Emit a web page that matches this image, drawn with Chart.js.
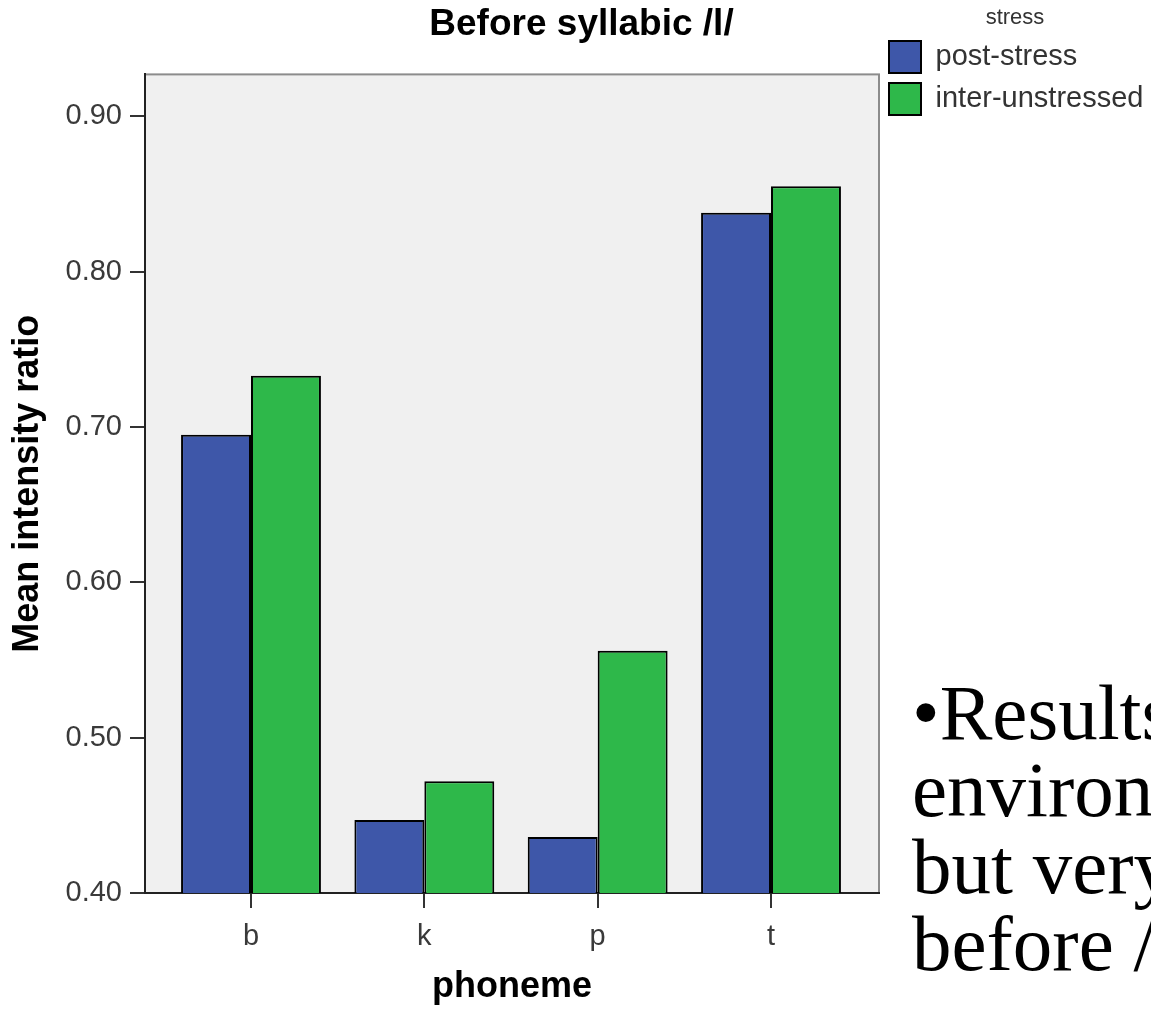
<!DOCTYPE html>
<html>
<head>
<meta charset="utf-8">
<script src="https://cdn.jsdelivr.net/npm/chart.js@4.4.1/dist/chart.umd.min.js"></script>
<style>
  html, body { margin: 0; padding: 0; background: #fff; overflow: hidden; }
  #wrap { position: relative; width: 1151px; height: 1010px; }
  #note {
    position: absolute; left: 912px; top: 674px; width: 239px; overflow: hidden;
    font: 79px "Liberation Serif", "Times New Roman", serif; line-height: 77px;
    white-space: nowrap; color: #000;
  }
</style>
</head>
<body>
<div id="wrap">
  <canvas id="chart"></canvas>
  <div id="note">•Results similar in<br>environments,<br>but very different<br>before /l/</div>
</div>
<script>
const phonemes = ['b', 'k', 'p', 't'];
const postStress = [0.695, 0.447, 0.436, 0.838];
const interUnstressed = [0.733, 0.472, 0.556, 0.855];
const yTicks = [0.40, 0.50, 0.60, 0.70, 0.80, 0.90];

const toPoints = (vals) => vals.map((v, i) => ({ x: i, y: v }));

// grey plot panel behind the bars
const panel = {
  id: 'panel',
  beforeDraw(chart) {
    const { ctx, chartArea: a } = chart;
    ctx.save();
    ctx.fillStyle = '#f0f0f0';
    ctx.fillRect(a.left, a.top, a.right - a.left, a.bottom - a.top);
    ctx.strokeStyle = '#8c8c8c';
    ctx.lineWidth = 2;
    ctx.strokeRect(a.left, a.top, a.right - a.left, a.bottom - a.top);
    ctx.restore();
  }
};

Chart.defaults.font.family = '"Liberation Sans", Arial, sans-serif';
Chart.defaults.color = '#333';

new Chart(document.getElementById('chart'), {
  type: 'bar',
  data: {
    datasets: [
      {
        label: 'post-stress',
        data: toPoints(postStress),
        backgroundColor: '#3e57a9',
        borderColor: '#000',
        borderWidth: 2,
        borderSkipped: false,
        categoryPercentage: 0.807,
        barPercentage: 1.0
      },
      {
        label: 'inter-unstressed',
        data: toPoints(interUnstressed),
        backgroundColor: '#2eb84a',
        borderColor: '#000',
        borderWidth: 2,
        borderSkipped: false,
        categoryPercentage: 0.807,
        barPercentage: 1.0
      }
    ]
  },
  options: {
    responsive: true,
    maintainAspectRatio: false,
    animation: false,
    layout: { padding: { left: 12, right: 0, top: 0, bottom: 0 } },
    plugins: {
      title: {
        display: true,
        text: 'Before syllabic /l/',
        color: '#000',
        font: { size: 37, weight: 'bold' },
        padding: { top: 3, bottom: 27 }
      },
      legend: {
        position: 'right',
        align: 'start',
        maxWidth: 272,
        title: {
          display: true,
          text: 'stress',
          position: 'center',
          color: '#333',
          font: { size: 22, lineHeight: 1.0 },
          padding: { top: 7, bottom: 2 }
        },
        labels: {
          boxWidth: 32,
          boxHeight: 32,
          padding: 10,
          color: '#333',
          font: { size: 29 }
        }
      },
      tooltip: { enabled: false }
    },
    scales: {
      x: {
        type: 'linear',
        offset: false,
        min: -0.6115,
        max: 3.623,
        afterBuildTicks: (scale) => { scale.ticks = phonemes.map((_, i) => ({ value: i })); },
        afterFit: (scale) => { scale.height = 117; },
        ticks: {
          callback: (v) => phonemes[v],
          font: { size: 29 },
          color: '#3a3a3a',
          padding: 12,
          maxRotation: 0
        },
        grid: { offset: false, drawOnChartArea: false, tickLength: 15, color: '#333', lineWidth: 2 },
        border: { color: '#222', width: 2 },
        title: {
          display: true,
          text: 'phoneme',
          color: '#000',
          font: { size: 36, weight: 'bold', lineHeight: 1.0 },
          padding: { top: 5, bottom: 5 }
        }
      },
      y: {
        min: 0.4,
        max: 0.927,
        afterBuildTicks: (scale) => { scale.ticks = yTicks.map((v) => ({ value: v })); },
        afterFit: (scale) => { scale.width = 133; },
        ticks: {
          callback: (v) => v.toFixed(2),
          font: { size: 29 },
          color: '#3a3a3a',
          padding: 8
        },
        grid: { drawOnChartArea: false, tickLength: 15, color: '#333', lineWidth: 2 },
        border: { color: '#222', width: 2 },
        title: {
          display: true,
          text: 'Mean intensity ratio',
          color: '#000',
          font: { size: 36, weight: 'bold', lineHeight: 0.9 },
          padding: { top: 0, bottom: 0 }
        }
      }
    }
  },
  plugins: [panel]
});
</script>
</body>
</html>
